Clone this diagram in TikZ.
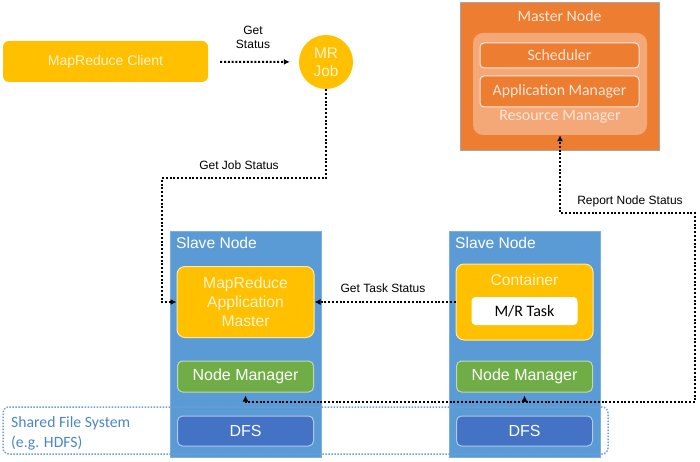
\documentclass[tikz,border=0pt]{standalone}
\usepackage{fontspec}
\setmainfont{Liberation Sans}
\newfontfamily\calfont{Carlito}
\usetikzlibrary{arrows.meta}

\definecolor{mryellow}{HTML}{FFC000}
\definecolor{paleyellow}{HTML}{FFF3D0}
\definecolor{mrorange}{HTML}{ED7D31}
\definecolor{rmorange}{HTML}{F4A777}
\definecolor{paleorange}{HTML}{FDE6D8}
\definecolor{slaveblue}{HTML}{5B9BD5}
\definecolor{nmgreen}{HTML}{70AD47}
\definecolor{dfsblue}{HTML}{4472C4}
\definecolor{sfsblue}{HTML}{6A9FD8}
\definecolor{sfstext}{HTML}{4A86C8}

\begin{document}
\begin{tikzpicture}[x=1pt,y=-1pt]
        \tikzstyle{every node} = [rectangle, inner sep=0pt, align=center]
        \tikzstyle{yelbox} = [fill=mryellow, text=paleyellow, rounded corners=8pt, font=\fontsize{14}{16}\selectfont]
        \tikzstyle{orbox} = [fill=mrorange, draw=paleorange, line width=1pt, rounded corners=4pt, text=paleorange, minimum width=159pt, font=\calfont\fontsize{15.8}{16}\selectfont]
        \tikzstyle{slave} = [fill=slaveblue, draw=slaveblue!80!white, minimum width=151pt, minimum height=226pt]
        \tikzstyle{title} = [anchor=west, text=white, font=\fontsize{15.6}{16}\selectfont]
        \tikzstyle{inbox} = [rounded corners=5pt, line width=1pt, text=white, minimum width=136pt, font=\fontsize{16}{16}\selectfont]
        \tikzstyle{lbl} = [font=\fontsize{12}{14}\selectfont]
        \tikzstyle{link} = [line width=2pt, dash pattern=on 2pt off 1.8pt, -{Latex[length=6pt,width=6pt]}]
        \useasboundingbox (0,0) rectangle (700,462);

        % client and job
        \node[yelbox, rounded corners=6pt, minimum width=205pt, minimum height=41pt] (client) at (105.5,61.5) {MapReduce Client};
        \node[circle, fill=mryellow, text=paleyellow, minimum size=54pt, font=\fontsize{15.4}{18}\selectfont] (job) at (326,62) {MR\\Job};
        \node[lbl] (getstatus) at (253,37) {Get\\Status};

        % master node
        \node[fill=mrorange, draw=black!35, minimum width=199pt, minimum height=148pt] (master) at (559.5,76) {};
        \node[text=paleorange, font=\calfont\fontsize{15.8}{16}\selectfont] (mastertitle) at (559.5,16) {Master Node};
        \node[fill=rmorange, rounded corners=10pt, minimum width=174pt, minimum height=102pt] (rm) at (560,84) {};
        \node[orbox, minimum height=25pt] (sched) at (559.5,55.5) {Scheduler};
        \node[orbox, minimum height=31pt] (appmgr) at (559.5,91.5) {Application Manager};
        \node[text=paleorange, font=\calfont\fontsize{16}{16}\selectfont] (rmtitle) at (560,117) {Resource Manager};

        % slave nodes
        \node[slave] (slave1) at (245.5,344) {};
        \node[title] (slavetitle1) at (176,243) {Slave Node};
        \node[yelbox, draw=paleyellow!80!mryellow, line width=1pt, minimum width=137pt, minimum height=71pt, font=\fontsize{15.7}{19}\selectfont] (am) at (245.5,302) {MapReduce\\Application\\Master};
        \node[inbox, fill=nmgreen, draw=nmgreen!45!white, minimum height=31pt] (nm1) at (245.5,376.5) {Node Manager};
        \node[inbox, fill=dfsblue, draw=dfsblue!40!white, minimum height=30pt] (dfs1) at (245.5,431) {DFS};

        \node[slave] (slave2) at (524.5,344) {};
        \node[title] (slavetitle2) at (455,243) {Slave Node};
        \node[yelbox, draw=paleyellow!80!mryellow, line width=1pt, minimum width=137pt, minimum height=76pt] (cont) at (524.5,302) {};
        \node[text=paleyellow, font=\fontsize{15.6}{16}\selectfont] (conttitle) at (524.5,280) {Container};
        \node[fill=white, rounded corners=4pt, minimum width=106pt, minimum height=28pt, font=\calfont\fontsize{16}{16}\selectfont] (task) at (524.5,311) {M/R Task};
        \node[inbox, fill=nmgreen, draw=nmgreen!45!white, minimum height=31pt] (nm2) at (524.5,376.5) {Node Manager};
        \node[inbox, fill=dfsblue, draw=dfsblue!40!white, minimum height=30pt] (dfs2) at (524.5,431) {DFS};

        % shared file system
        \node[draw=sfsblue, line width=1.5pt, dash pattern=on 1.5pt off 1.5pt, rounded corners=6pt, minimum width=605pt, minimum height=47pt] (sfs) at (305.5,430.5) {};
        \node[anchor=west, align=left, text=sfstext, font=\calfont\fontsize{15.7}{20}\selectfont] (sfslabel) at (11,433) {Shared File System\\(e.g. HDFS)};

        % status links
        \coordinate (jb) at (162,178);
        \coordinate (rn) at (695,402);
        \coordinate (rs) at (560,213);
        \draw[link, shorten <=12pt, shorten >=9pt] (client) -- (job);
        \draw[link] (job.south) |- (jb) |- (am.west);
        \draw[link] (cont.west) -- (am.east);
        \draw[link, {Latex[length=6pt,width=6pt]}-{Latex[length=6pt,width=6pt]}, shorten <=3pt] (nm1.south) -- (nm1.south |- rn) -- (rn) |- (rs) -- (rm.south);
        \draw[link, shorten >=3pt] (nm2.south |- rn) -- (nm2.south);

        \node[lbl] (jobstatus) at (239,165) {Get Job Status};
        \node[lbl] (taskstatus) at (383,288) {Get Task Status};
        \node[lbl] (nodestatus) at (630,201) {Report Node Status};
\end{tikzpicture}
\end{document}
